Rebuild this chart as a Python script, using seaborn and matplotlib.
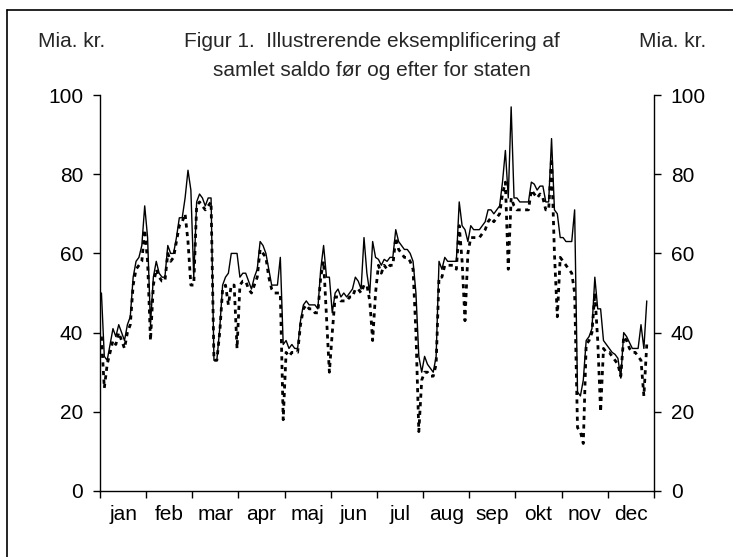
import numpy as np
import pandas as pd
import matplotlib
matplotlib.use('Agg')
import matplotlib.pyplot as plt
from matplotlib.lines import Line2D
import seaborn as sns

sns.set_theme(style='white')
plt.rcParams['font.family'] = ['Liberation Sans', 'DejaVu Sans']

months = ['jan', 'feb', 'mar', 'apr', 'maj', 'jun',
          'jul', 'aug', 'sep', 'okt', 'nov', 'dec']
points_per_month = 16
y_ticks = [0, 20, 40, 60, 80, 100]

# samlet saldo foer (solid line), one value per observation, month by month
saldo_foer = [
    50, 34, 33, 37, 41, 39, 42, 40, 38, 42, 44, 54, 58, 59, 62, 72,            # jan
    64, 42, 54, 58, 55, 54, 54, 62, 60, 60, 64, 69, 69, 74, 81, 76,            # feb
    54, 73, 75, 74, 72, 74, 74, 33, 33, 41, 52, 54, 55, 60, 60, 60,            # mar
    54, 55, 55, 53, 51, 54, 56, 63, 62, 60, 56, 52, 52, 52, 59, 37,            # apr
    38, 36, 37, 36, 36, 43, 47, 48, 47, 47, 47, 46, 56, 62, 54, 54,            # maj
    45, 50, 51, 49, 50, 49, 50, 51, 54, 53, 51, 64, 55, 50, 63, 59,            # jun
    58.5, 57, 58.5, 58, 59, 59, 66, 63, 62, 61, 61, 60, 58, 50, 34, 30,        # jul
    34, 32, 31, 30, 34, 58, 56, 59, 58, 58, 58, 58, 73, 67, 66, 63,            # aug
    67, 66, 66, 66, 67, 68, 71, 71, 70, 71, 72, 78, 86, 74, 97, 74,            # sep
    74, 73, 73, 73, 73, 78, 77.5, 76, 77, 77, 73, 73, 89, 71, 70, 64,          # okt
    64, 63, 63, 63, 71, 25, 24, 28, 38, 39, 41, 54, 46, 46, 38, 37,            # nov
    36, 35, 34.5, 33.5, 28.5, 40, 39, 37.5, 36, 36, 36, 42, 36, 48,            # dec
]

# samlet saldo efter (dashed line)
saldo_efter = [
    39, 26, 32, 35, 38, 37, 40, 38, 36, 40, 42, 52, 56, 57, 58, 66,            # jan
    58, 38, 52, 56, 54, 53, 53, 60, 58, 59, 63, 67, 68, 70, 63, 52,            # feb
    52, 72, 73, 72, 71, 72, 73, 33, 33, 40, 51, 52, 47, 52, 52, 36,            # mar
    52, 53, 53, 51, 50, 52, 54, 61, 60, 59, 54, 51, 50, 50, 50, 18,            # apr
    35, 34, 35, 35, 35, 42, 46, 47, 46, 46, 45, 45, 54, 58, 44, 30,            # maj
    40, 49, 49, 48, 48, 48, 49, 49, 51, 51, 50, 52, 52, 48, 38, 50,            # jun
    57, 55, 57, 56, 57, 57, 64, 61, 60, 59, 59, 58, 56, 40, 15, 28,            # jul
    30, 30, 29, 29, 32, 54, 54, 57, 57, 57, 57, 56, 67, 58, 43, 60,            # aug
    64, 64, 64, 64, 65, 66, 68, 69, 68, 69, 70, 75, 78, 56, 74, 72,            # sep
    71, 71, 71, 71, 71, 76, 75, 74, 75, 74, 71, 71, 84, 60, 44, 59,            # okt
    58, 57, 56, 55, 50, 16, 15, 12, 37, 38, 40, 50, 38, 20, 36, 35,            # nov
    35, 34, 33, 32, 29, 39, 38, 36, 35, 35, 34, 33, 24, 37,                    # dec
]

df = pd.DataFrame({'dag': np.arange(len(saldo_foer)),
                   'foer': saldo_foer,
                   'efter': saldo_efter})

fig = plt.figure(figsize=(7.33, 5.57), dpi=100)
ax = fig.add_axes([0.1364, 0.1185, 0.7558, 0.7109])

sns.lineplot(data=df, x='dag', y='foer', ax=ax, color='black', lw=1.0)
sns.lineplot(data=df, x='dag', y='efter', ax=ax, color='black', lw=2.0,
             linestyle=(0, (1.5, 1.6)))

n_months = len(months)
ax.set_xlim(-0.5, n_months * points_per_month - 0.5)
ax.set_ylim(0, 100)
ax.set_xticks([k * points_per_month - 0.5 for k in range(n_months + 1)])
ax.set_xticklabels([])
ax.set_xticks([k * points_per_month + (points_per_month - 1) / 2 for k in range(n_months)], minor=True)
ax.set_xticklabels(months, minor=True)
ax.set_yticks(y_ticks)
ax.set_xlabel('')
ax.set_ylabel('')

#left axis + bottom axis
ax.spines[['top', 'right']].set_visible(False)
for s in ['left', 'bottom']:
    ax.spines[s].set_color('black')
    ax.spines[s].set_linewidth(1.0)
ax.tick_params(axis='both', which='major', direction='out', length=5, width=1,
               color='black', labelsize=15, labelcolor='black', left=True, bottom=True, pad=7)
ax.tick_params(axis='x', which='minor', length=0, labelsize=15, labelcolor='black', pad=10, bottom=True)

#right axis, same scale
ax2 = ax.twinx()
ax2.set_ylim(0, 100)
ax2.set_yticks(y_ticks)
ax2.spines[['top', 'left', 'bottom']].set_visible(False)
ax2.spines['right'].set_color('black')
ax2.spines['right'].set_linewidth(1.0)
ax2.tick_params(axis='y', direction='out', length=5, width=1, color='black',
                labelsize=15, labelcolor='black', right=True, pad=7)
ax2.grid(False)

#titles
fig.text(0.508, 0.9246, 'Figur 1.  Illustrerende eksemplificering af', ha='center', va='center', fontsize=15)
fig.text(0.508, 0.8743, 'samlet saldo før og efter for staten', ha='center', va='center', fontsize=15)
fig.text(0.098, 0.9246, 'Mia. kr.', ha='center', va='center', fontsize=15)
fig.text(0.917, 0.9246, 'Mia. kr.', ha='center', va='center', fontsize=15)

#frame (top and left edges of the scanned box)
fig.add_artist(Line2D([7 / 733, 1], [1 - 10 / 557, 1 - 10 / 557], color='black', lw=1.2, transform=fig.transFigure))
fig.add_artist(Line2D([7 / 733, 7 / 733], [0, 1 - 10 / 557], color='black', lw=1.2, transform=fig.transFigure))

fig.savefig('out.png', dpi=100)
